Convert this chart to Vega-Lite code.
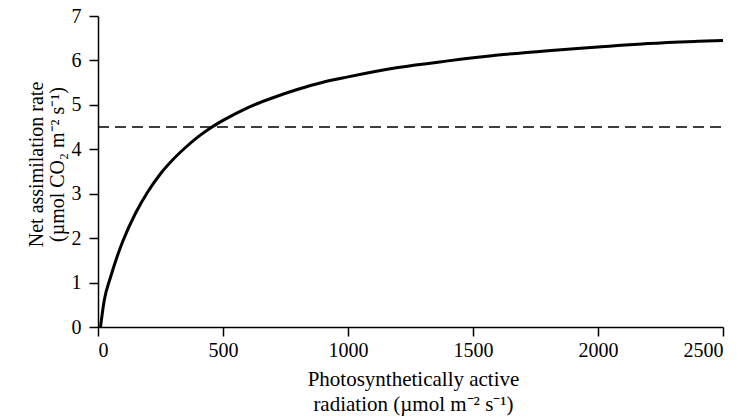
{
  "$schema": "https://vega.github.io/schema/vega-lite/v6.json",
  "width": 625,
  "height": 311,
  "autosize": "none",
  "padding": {"left": 98, "top": 16, "right": 15, "bottom": 93},
  "background": "white",
  "config": {
    "view": {"stroke": null},
    "font": "Liberation Serif",
    "axis": {
      "grid": false,
      "domainColor": "black",
      "domainWidth": 1.5,
      "tickColor": "black",
      "tickWidth": 1.5,
      "tickSize": 9,
      "labelFont": "Liberation Serif",
      "labelFontSize": 20,
      "labelColor": "black",
      "titleFont": "Liberation Serif",
      "titleFontSize": 21,
      "titleFontWeight": "normal",
      "titleColor": "black"
    }
  },
  "datasets": {
    "curve": [
      {"par": 10, "rate": 0.0},
      {"par": 25, "rate": 0.6},
      {"par": 50, "rate": 1.12},
      {"par": 75, "rate": 1.56},
      {"par": 100, "rate": 1.94},
      {"par": 150, "rate": 2.56},
      {"par": 200, "rate": 3.05},
      {"par": 250, "rate": 3.45},
      {"par": 300, "rate": 3.77},
      {"par": 350, "rate": 4.04},
      {"par": 400, "rate": 4.28},
      {"par": 450, "rate": 4.48},
      {"par": 500, "rate": 4.65},
      {"par": 600, "rate": 4.94},
      {"par": 700, "rate": 5.16},
      {"par": 800, "rate": 5.35},
      {"par": 900, "rate": 5.51},
      {"par": 1000, "rate": 5.63},
      {"par": 1200, "rate": 5.84},
      {"par": 1400, "rate": 5.99},
      {"par": 1600, "rate": 6.12},
      {"par": 1800, "rate": 6.22},
      {"par": 2000, "rate": 6.3},
      {"par": 2200, "rate": 6.38},
      {"par": 2400, "rate": 6.43},
      {"par": 2500, "rate": 6.45}
    ],
    "ref": [
      {"par": 0, "rate": 4.5},
      {"par": 2500, "rate": 4.5}
    ]
  },
  "layer": [
    {
      "data": {"name": "ref"},
      "mark": {"type": "line", "color": "black", "strokeWidth": 1.6, "strokeDash": [11, 6]},
      "encoding": {
        "x": {"field": "par", "type": "quantitative"},
        "y": {"field": "rate", "type": "quantitative"}
      }
    },
    {
      "data": {"name": "curve"},
      "mark": {"type": "line", "color": "black", "strokeWidth": 3, "interpolate": "monotone"},
      "encoding": {
        "x": {
          "field": "par",
          "type": "quantitative",
          "scale": {"domain": [0, 2500], "nice": false, "zero": true},
          "axis": {
            "values": [0, 500, 1000, 1500, 2000, 2500],
            "format": "d",
            "labelPadding": 4,
            "title": ["Photosynthetically active", "radiation (µmol m⁻² s⁻¹)"],
            "titleLineHeight": 25,
            "titleBaseline": "top",
            "titleY": 41,
            "titleX": 315
          }
        },
        "y": {
          "field": "rate",
          "type": "quantitative",
          "scale": {"domain": [0, 7], "nice": false},
          "axis": {
            "values": [0, 1, 2, 3, 4, 5, 6, 7],
            "format": "d",
            "labelPadding": 8,
            "title": ["Net assimilation rate", "(µmol CO₂  m⁻² s⁻¹)"],
            "titleFontSize": 20,
            "titleLineHeight": 21,
            "titleAngle": -90,
            "titleBaseline": "top",
            "titleAlign": "center",
            "titleX": -72,
            "titleY": 148
          }
        }
      }
    }
  ]
}
